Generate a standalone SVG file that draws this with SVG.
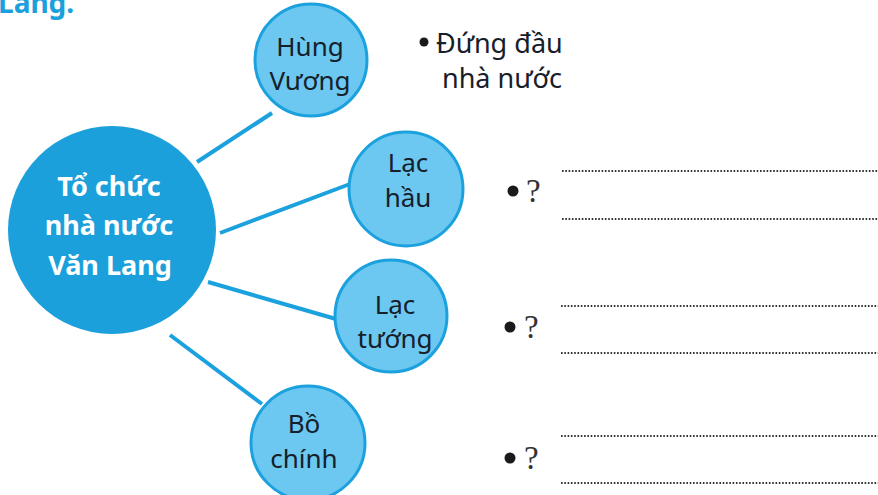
<svg xmlns="http://www.w3.org/2000/svg" width="878" height="495" viewBox="0 0 878 495">
<style>
.node{fill:#6cc8f0;stroke:#1ba1dd;stroke-width:3}
.main{fill:#1ba0dc}
.nt{font-family:"Noto Sans","Open Sans",sans-serif;font-size:26px;fill:#16202a;text-anchor:middle}
.mt{font-family:"Noto Sans","Open Sans",sans-serif;font-size:27px;font-weight:bold;fill:#ffffff;text-anchor:middle}
.conn line{stroke:#1ba1dd;stroke-width:4;stroke-linecap:butt}
.desc{font-family:"Noto Sans","Open Sans",sans-serif;font-size:27px;fill:#16202a}
.q{font-family:"Liberation Serif","Times New Roman",serif;font-size:33px;fill:#333}
.dots line{stroke:#333;stroke-width:1.8;stroke-dasharray:1.6 1.7}
.bullet{fill:#1a1a1a}
</style>
<rect width="878" height="495" fill="#ffffff"/>
<text x="-2" y="13" font-family="Noto Sans,sans-serif" font-size="28" font-weight="bold" fill="#1ba0dc">Lang.</text>
<g class="conn">
<line x1="197" y1="162" x2="272" y2="113"/>
<line x1="220" y1="233" x2="350" y2="184"/>
<line x1="208" y1="282" x2="336" y2="319"/>
<line x1="170" y1="335" x2="262" y2="404"/>
</g>
<g id="main">
<circle class="main" cx="112" cy="230" r="104"/>
<text class="mt" x="109" y="196">Tổ chức</text>
<text class="mt" x="109" y="235">nhà nước</text>
<text class="mt" x="110" y="275">Văn Lang</text>
</g>
<g id="hung-vuong">
<circle class="node" cx="311" cy="60" r="56"/>
<text class="nt" x="310" y="56">Hùng</text>
<text class="nt" x="310" y="90">Vương</text>
</g>
<g id="lac-hau">
<circle class="node" cx="406" cy="189" r="57"/>
<text class="nt" x="408" y="172">Lạc</text>
<text class="nt" x="408" y="207">hầu</text>
</g>
<g id="lac-tuong">
<circle class="node" cx="391" cy="316" r="56"/>
<text class="nt" x="395" y="314">Lạc</text>
<text class="nt" x="395" y="348">tướng</text>
</g>
<g id="bo-chinh">
<circle class="node" cx="308" cy="443" r="57"/>
<text class="nt" x="304" y="433">Bồ</text>
<text class="nt" x="304" y="468">chính</text>
</g>
<g id="desc-hung-vuong">
<circle class="bullet" cx="424" cy="42" r="4.5"/>
<text class="desc" x="436" y="53">Đứng đầu</text>
<text class="desc" x="442" y="88">nhà nước</text>
</g>
<g id="desc-lac-hau">
<circle class="bullet" cx="513" cy="191" r="5.5"/>
<text class="q" x="526" y="202">?</text>
</g>
<g id="desc-lac-tuong">
<circle class="bullet" cx="510" cy="327" r="5.5"/>
<text class="q" x="524" y="338">?</text>
</g>
<g id="desc-bo-chinh">
<circle class="bullet" cx="510" cy="458" r="5.5"/>
<text class="q" x="524" y="469">?</text>
</g>
<g class="dots">
<line x1="562" y1="171" x2="878" y2="171"/>
<line x1="562" y1="219" x2="878" y2="219"/>
<line x1="561" y1="306" x2="878" y2="306"/>
<line x1="561" y1="353" x2="878" y2="353"/>
<line x1="561" y1="436" x2="878" y2="436"/>
<line x1="561" y1="483" x2="878" y2="483"/>
</g>
</svg>
